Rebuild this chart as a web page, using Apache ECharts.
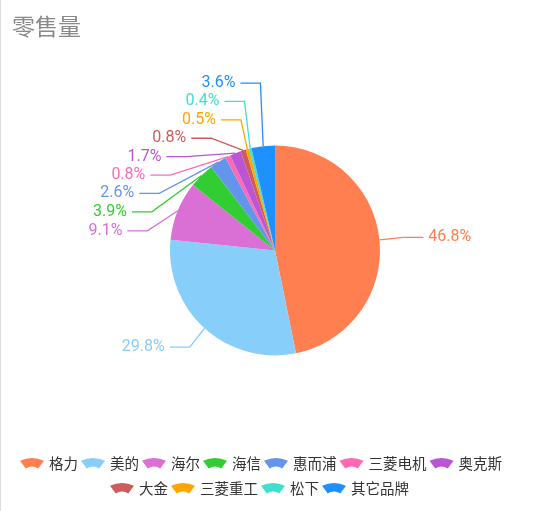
<!DOCTYPE html>
<html><head><meta charset="utf-8">
<script src="https://cdn.jsdelivr.net/npm/echarts@6/dist/echarts.min.js"></script>
<style>html,body{margin:0;padding:0;background:#fff;}#c{width:550px;height:511px;}#edge{position:absolute;left:0;top:0;width:1px;height:511px;background:#ddd;z-index:5;}</style>
</head><body><div id="c"></div><div id="edge"></div>
<script>
const categories = ['格力','美的','海尔','海信','惠而浦','三菱电机','奥克斯','大金','三菱重工','松下','其它品牌'];
const values = [46.8,29.8,9.1,3.9,2.6,0.8,1.7,0.8,0.5,0.4,3.6];
const legendRow1 = ['格力','美的','海尔','海信','惠而浦','三菱电机','奥克斯'];
const legendRow2 = ['大金','三菱重工','松下','其它品牌'];
const colors = ['#FF7F50','#87CEFA','#DA70D6','#32CD32','#6495ED','#FF69B4','#BA55D3','#CD5C5C','#FFA500','#40E0D0','#1E90FF'];
const fan = 'path://M0,3 Q12.5,-3 25,3 L19,11 Q12.5,7 6,11 Z';
const legendText = {fontSize:14.5,color:'#333',fontFamily:"'Noto Sans CJK SC', sans-serif"};

const chart = echarts.init(document.getElementById('c'));
const W = chart.getWidth(), H = chart.getHeight();
const CX = W * 0.5, CY = H * 0.49, R = 105, LEN = 24, LEN_Y = 25.5, LEN2 = 20, DIST = 5, LH = 18.4;

// classic (ECharts 2-4 style) outside-label layout: stack crowded labels, bend on circle r+len
function computeLabelLayout() {
  const total = values.reduce((a, b) => a + b, 0);
  let acc = 0;
  const items = values.map((v, i) => {
    const mid = (acc + v / 2) / total * Math.PI * 2; acc += v;
    const sx = Math.sin(mid), sy = -Math.cos(mid);
    return {i, dir: sx < 0 ? -1 : 1, p0: [CX + R * sx, CY + R * sy],
      bx: CX + (R + LEN) * sx, y: CY + (R + LEN_Y) * sy, height: LH};
  });
  function adjust(list) {
    function shiftUp(end, delta) {
      for (let j = end; j >= 0; j--) {
        if (list[j].y - delta < 0) break;
        list[j].y -= delta;
        if (j > 0 && list[j].y > list[j - 1].y + list[j - 1].height) break;
      }
    }
    function shiftDown(start, end, delta) {
      for (let j = start; j < end; j++) {
        if (list[j].y + delta > H) break;
        list[j].y += delta;
        if (j > start && j + 1 < end && list[j + 1].y > list[j].y + list[j].height) { shiftUp(j, delta / 2); return; }
      }
      shiftUp(end - 1, delta / 2);
    }
    let lastY = 0;
    for (let i = 0; i < list.length; i++) {
      const d = list[i].y - lastY;
      if (d < 0) shiftDown(i, list.length, -d);
      lastY = list[i].y + list[i].height;
    }
  }
  [-1, 1].forEach(dir => {
    const list = items.filter(it => it.dir === dir).sort((a, b) => a.y - b.y);
    adjust(list);
    const R1 = R + LEN;
    list.forEach(it => {
      const dy = Math.abs(it.y - CY);
      if (dy < R1) it.bx = CX + dir * Math.sqrt(R1 * R1 - dy * dy);
    });
  });
  return items;
}
const labelPos = computeLabelLayout();

chart.setOption({
  color: colors,
  textStyle:{fontFamily:"Roboto, 'Noto Sans CJK SC', sans-serif"},
  title:{text:'零售量',left:7,top:10,textStyle:{fontSize:23,fontWeight:'normal',color:'#888',fontFamily:"'Noto Sans CJK SC', sans-serif"}},
  legend:[
    {top:451,left:15,icon:fan,itemWidth:24,itemHeight:11,itemGap:3,textStyle:legendText,data:legendRow1},
    {top:476,left:105,icon:fan,itemWidth:24,itemHeight:11,itemGap:3,textStyle:legendText,data:legendRow2}
  ],
  series:[{type:'pie',center:['50%','49%'],radius:R,startAngle:90,clockwise:true,
    avoidLabelOverlap:false,
    data:categories.map((n,i)=>({name:n,value:values[i]})),
    label:{formatter:p=>p.value.toFixed(1)+'%',fontSize:16,color:'inherit'},
    labelLine:{length:LEN,length2:LEN2,lineStyle:{width:1.3}},
    labelLayout:function(p){
      const it = labelPos[p.dataIndex];
      const end = it.bx + it.dir * LEN2;
      return {x:end + it.dir * DIST, y:it.y, align:it.dir < 0 ? 'right' : 'left', verticalAlign:'middle',
        labelLinePoints:[it.p0, [it.bx, it.y], [end, it.y]]};
    },
    itemStyle:{borderWidth:0}
  }]
});
</script></body></html>
